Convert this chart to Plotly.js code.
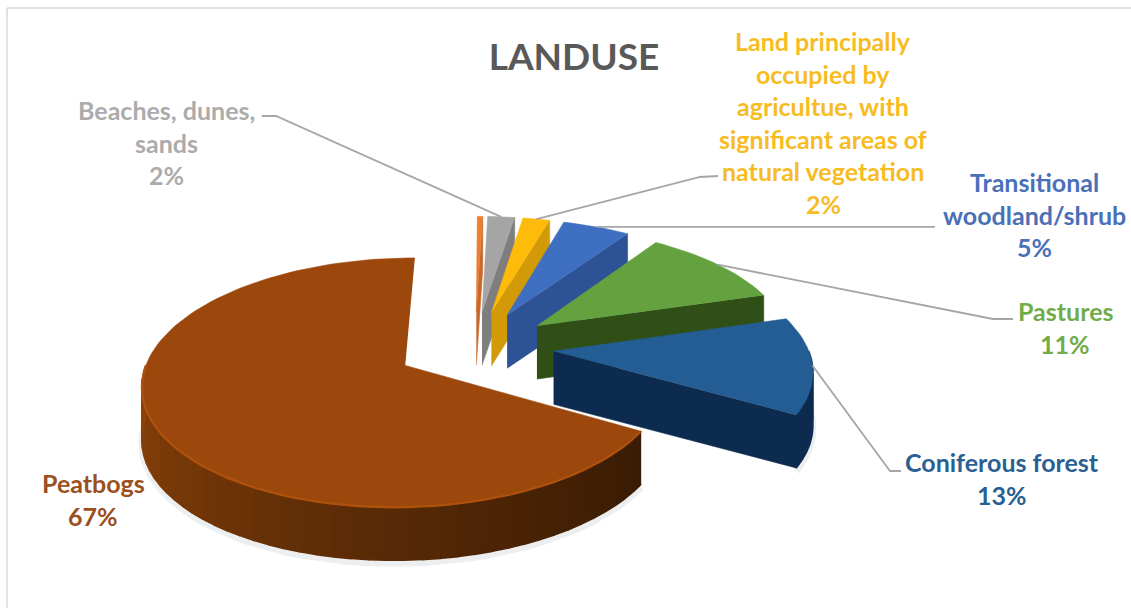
<!DOCTYPE html>
<html>
<head>
<meta charset="utf-8">
<script src="https://cdn.plot.ly/plotly-3.0.1.min.js"></script>
<style>html,body{margin:0;padding:0;background:#fff}#chart{width:1131px;height:608px}</style>
</head>
<body>
<div id="chart"></div>
<script>
// Land use shares, listed clockwise from the top of the pie.
const categories = ['Other', 'Beaches, dunes, sands', 'Land principally occupied by agricultue, with significant areas of natural vegetation', 'Transitional woodland/shrub', 'Pastures', 'Coniferous forest', 'Peatbogs'];
const shares = [0.4, 2, 2, 5, 11, 13, 67];
const labelLines = [
  null,
  ['Beaches, dunes,', 'sands'],
  ['Land principally', 'occupied by', 'agricultue, with', 'significant areas of', 'natural vegetation'],
  ['Transitional', 'woodland/shrub'],
  ['Pastures'],
  ['Coniferous forest'],
  ['Peatbogs']
];
const topColors = ['#ED7D31', '#A5A5A5', '#FFBB0A', '#3F6FC0', '#63A23F', '#235D93', '#9C480C'];
const wallColors = ['#C8682A', '#7E7E7E', '#D39A08', '#2E5296', '#2F4F17', '#0D2B4E', '#5A2C08'];
const textColors = ['#ED7D31', '#ABABAB', '#F7BC22', '#4A70B8', '#72AC4A', '#2A5F92', '#9A5020'];

// Label block placement and leader elbows, in plot pixels.
const labelCenterX = [0, 166, 823, 1034, 1065, 1002, 93];
const labelFirstY = [0, 110, 41, 182, 311, 462, 483];
const lineStep = 32.6;
const leaderPaths = [
  null,
  [[276, 116], [262, 116]],
  [[700, 177], [718, 176]],
  [[935, null]],
  [[993, 319], [1013, 319]],
  [[890, 471], [901, 471]],
  null
];

// Projection of the tilted pie onto the page.
const pie = {cx: 475, cy: 347, R: 254, tilt: 117.3, persp: 0.1347, depth: 53, burst: 0.31, startDeg: 0.3};

function project(u, v, drop) {
  const s = 1 / (1 - pie.persp * v);
  return [pie.cx + pie.R * u * s, pie.cy + pie.tilt * v * s + drop];
}
const total = shares.reduce((a, b) => a + b, 0);
const toRad = d => d * Math.PI / 180;

function sliceGeometry(i) {
  const before = shares.slice(0, i).reduce((a, b) => a + b, 0);
  const a1 = pie.startDeg + 360 * before / total;
  const a2 = a1 + 360 * shares[i] / total;
  const mid = toRad((a1 + a2) / 2);
  return {a1, a2, ou: pie.burst * Math.sin(mid), ov: -pie.burst * Math.cos(mid)};
}
function rim(g, deg, drop) {
  const t = toRad(deg);
  return project(g.ou + Math.sin(t), g.ov - Math.cos(t), drop);
}
function apex(g, drop) { return project(g.ou, g.ov, drop); }

function polygon(points, color, edgeWidth) {
  return {
    type: 'scatter', mode: 'lines', fill: 'toself', fillcolor: color,
    x: points.map(p => p[0]), y: points.map(p => p[1]),
    line: {color: color, width: edgeWidth || 0.6}, hoverinfo: 'skip', showlegend: false
  };
}
function mix(c1, c2, t) {
  const p = c => [1, 3, 5].map(k => parseInt(c.substr(k, 2), 16));
  const a = p(c1), b = p(c2);
  return 'rgb(' + a.map((x, k) => Math.round(x + (b[k] - x) * t)).join(',') + ')';
}

const traces = [];
shares.forEach((value, i) => {
  const g = sliceGeometry(i);
  const d = pie.depth;
  const isPeat = i === shares.length - 1;
  const from = Math.max(g.a1, 90), to = Math.min(g.a2, 270);
  // Faint shadow under the two slices closest to the viewer.
  if (i >= shares.length - 2 && to > from) {
    const shade = [];
    for (let s = 0; s <= 50; s++) shade.push(rim(g, from + (to - from) * s / 50, d + 3));
    traces.push({
      type: 'scatter', mode: 'lines', x: shade.map(p => p[0]), y: shade.map(p => p[1]),
      line: {color: 'rgba(110,120,130,0.13)', width: 7}, hoverinfo: 'skip', showlegend: false
    });
  }
  // Cut faces turned toward the viewer.
  if (g.a2 < 180) {
    traces.push(polygon([apex(g, 0), rim(g, g.a2, 0), rim(g, g.a2, d), apex(g, d)], wallColors[i]));
  }
  if (g.a1 > 180) {
    traces.push(polygon([apex(g, 0), rim(g, g.a1, 0), rim(g, g.a1, d), apex(g, d)], wallColors[i]));
  }
  // Outer wall, stepped for shading along the curve.
  if (to > from) {
    const steps = isPeat ? 44 : 8;
    for (let s = 0; s < steps; s++) {
      const b1 = from + (to - from) * s / steps;
      const b2 = from + (to - from) * (s + 1) / steps;
      const color = isPeat ? mix('#3A1C04', '#8E4309', Math.pow(s / (steps - 1), 1.15)) : wallColors[i];
      traces.push(polygon([rim(g, b1, 0), rim(g, b2, 0), rim(g, b2, d), rim(g, b1, d)], color, 1.6));
    }
  }
  // Top face.
  const top = [apex(g, 0)];
  const n = Math.max(6, Math.round((g.a2 - g.a1) / 2));
  for (let s = 0; s <= n; s++) top.push(rim(g, g.a1 + (g.a2 - g.a1) * s / n, 0));
  traces.push(polygon(top, topColors[i]));
  // Bevel along the front of the large slice.
  if (isPeat) {
    const edge = [];
    for (let s = 0; s <= 60; s++) edge.push(rim(g, g.a1 + (270 - g.a1) * s / 60, 0));
    traces.push({
      type: 'scatter', mode: 'lines', x: edge.map(p => p[0]), y: edge.map(p => p[1]),
      line: {color: '#AE520E', width: 2.2}, hoverinfo: 'skip', showlegend: false
    });
  }
});

// Leader lines from each slice's outer edge to its label.
leaderPaths.forEach((path, i) => {
  if (!path) return;
  const g = sliceGeometry(i);
  const start = rim(g, (g.a1 + g.a2) / 2, 0);
  const pts = [start].concat(path.map(p => [p[0], p[1] === null ? start[1] : p[1]]));
  traces.push({
    type: 'scatter', mode: 'lines', x: pts.map(p => p[0]), y: pts.map(p => p[1]),
    line: {color: '#A6A6A6', width: 1.8}, hoverinfo: 'skip', showlegend: false
  });
});

const annotations = [];
function addText(text, x, y, color, size) {
  annotations.push({
    text: '<b>' + text + '</b>', x, y, xref: 'x', yref: 'y', xanchor: 'center', yanchor: 'middle',
    showarrow: false, font: {family: 'Lato, sans-serif', size, color}
  });
}
categories.forEach((name, i) => {
  if (!labelLines[i]) return;
  const lines = labelLines[i].concat([Math.round(100 * shares[i] / total) + '%']);
  lines.forEach((line, k) => addText(line, labelCenterX[i], labelFirstY[i] + k * lineStep, textColors[i], 25));
});

const layout = {
  width: 1131, height: 608,
  margin: {l: 0, r: 0, t: 0, b: 0},
  paper_bgcolor: '#ffffff', plot_bgcolor: '#ffffff',
  showlegend: false,
  title: {text: '<b>LANDUSE</b>', x: 574 / 1131, xanchor: 'center', y: 1 - 57 / 608, yanchor: 'middle',
          font: {family: 'Lato, sans-serif', size: 37, color: '#595959'}},
  xaxis: {range: [0, 1131], visible: false, fixedrange: true},
  yaxis: {range: [608, 0], visible: false, fixedrange: true},
  shapes: [
    {type: 'line', xref: 'x', yref: 'y', x0: 7, y0: 8, x1: 1131, y1: 8, line: {color: '#D9D9D9', width: 1.5}, layer: 'below'},
    {type: 'line', xref: 'x', yref: 'y', x0: 7, y0: 8, x1: 7, y1: 608, line: {color: '#D9D9D9', width: 1.5}, layer: 'below'}
  ],
  annotations
};
Plotly.newPlot('chart', traces, layout, {displayModeBar: false, staticPlot: true});
</script>
</body>
</html>
